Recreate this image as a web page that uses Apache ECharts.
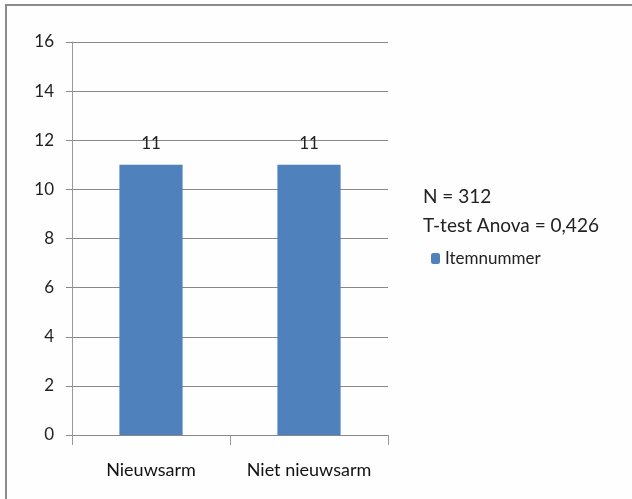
<!DOCTYPE html>
<html>
<head>
<meta charset="utf-8">
<script src="https://cdn.jsdelivr.net/npm/echarts@6/dist/echarts.min.js"></script>
<style>
  html, body { margin: 0; padding: 0; background: #fff; }
  #chart { width: 632px; height: 499px; }
</style>
</head>
<body>
<div id="chart"></div>
<script>
// categorieen en waarden
var categories = ['Nieuwsarm', 'Niet nieuwsarm'];
var values = [11, 11];
var seriesName = 'Itemnummer';
var notes = ['N = 312', 'T-test Anova = 0,426'];

var chart = echarts.init(document.getElementById('chart'));

chart.setOption({
  animation: false,
  backgroundColor: '#fefefe',
  textStyle: { fontFamily: 'Lato' },
  grid: { left: 72, right: 244, top: 42, bottom: 64 },
  legend: {
    data: [seriesName],
    left: 426, top: 245,
    itemWidth: 9, itemHeight: 11,
    itemGap: 4,
    textStyle: { fontSize: 17, color: '#222', fontFamily: 'Lato', padding: [0, 0, 0, 0] }
  },
  graphic: [
    {
      type: 'rect',
      shape: { x: 6, y: 5, width: 700, height: 600 },
      style: { fill: 'none', stroke: '#8c8c8c', lineWidth: 2 },
      silent: true
    },
    {
      type: 'text', left: 423, top: 187,
      style: { text: notes[0], fontSize: 19, fill: '#222', fontFamily: 'Lato' }
    },
    {
      type: 'text', left: 423, top: 216,
      style: { text: notes[1], fontSize: 19, fill: '#222', fontFamily: 'Lato' }
    }
  ],
  xAxis: {
    type: 'category',
    data: categories,
    axisLine: { lineStyle: { color: '#888' } },
    axisTick: { show: true, length: 10, lineStyle: { color: '#999' } },
    axisLabel: { interval: 0, hideOverlap: false, margin: 26, fontSize: 18, color: '#111' }
  },
  yAxis: {
    type: 'value',
    min: 0, max: 16, interval: 2,
    axisLine: { show: true, lineStyle: { color: '#999' } },
    axisTick: { show: true, length: 6, lineStyle: { color: '#888' } },
    splitLine: { lineStyle: { color: '#888' } },
    axisLabel: { margin: 18, fontSize: 17, color: '#222' }
  },
  series: [
    {
      name: seriesName,
      type: 'bar',
      data: values,
      barWidth: '40%',
      itemStyle: { color: '#4f81bd' },
      label: { show: true, position: 'top', distance: 13, fontSize: 17, color: '#222' }
    }
  ]
});
</script>
</body>
</html>
